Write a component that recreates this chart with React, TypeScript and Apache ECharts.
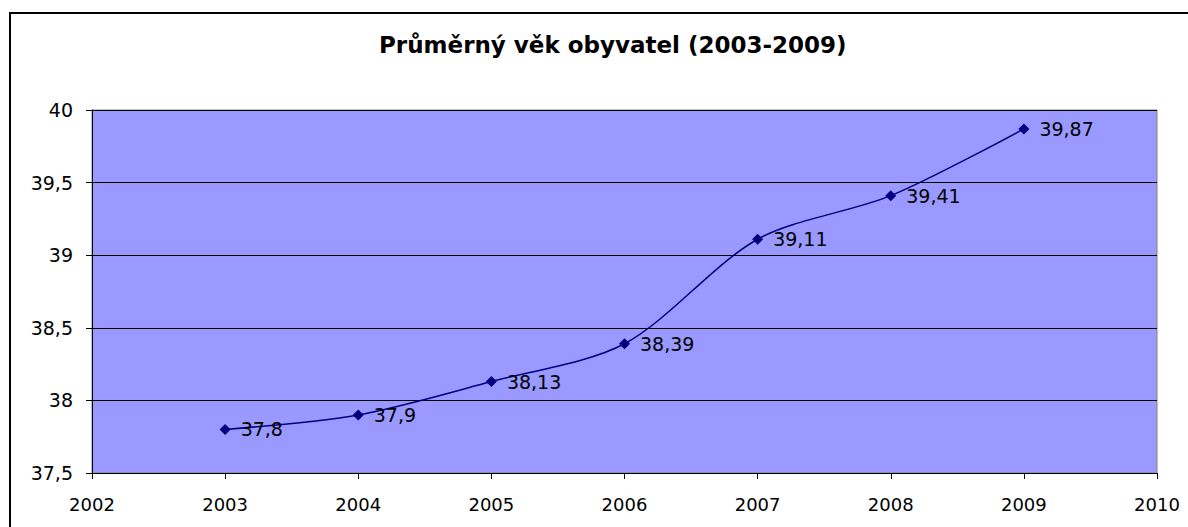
import React, { useEffect, useRef } from "react";
import * as echarts from "echarts";

const years = [2003, 2004, 2005, 2006, 2007, 2008, 2009];
const values = [37.8, 37.9, 38.13, 38.39, 39.11, 39.41, 39.87];
const title = "Průměrný věk obyvatel (2003-2009)";

const comma = (v: number) => String(v).replace(".", ",");

export default function App() {
  const ref = useRef<HTMLDivElement>(null);
  useEffect(() => {
    if (!ref.current) return;
    const chart = echarts.init(ref.current, null, { renderer: "svg" });
    const font = "'DejaVu Sans', sans-serif";
    chart.setOption({
      animation: false,
      backgroundColor: "#ffffff",
      title: {
        text: title,
        left: 374,
        top: 28,
        textStyle: { fontFamily: font, fontSize: 23, fontWeight: "bold", color: "#000" },
      },
      graphic: [
        {
          type: "rect",
          shape: { x: 10, y: 13, width: 1300, height: 700 },
          style: { fill: "none", stroke: "#000", lineWidth: 2 },
          silent: true,
        },
      ],
      grid: {
        left: 92,
        top: 110,
        width: 1065,
        height: 363,
        show: true,
        backgroundColor: "#9999FF",
        borderColor: "#808080",
        borderWidth: 1,
      },
      xAxis: {
        type: "value",
        min: 2002,
        max: 2010,
        interval: 1,
        axisLine: { show: true, lineStyle: { color: "#000", width: 1 } },
        axisTick: { show: true, length: 6, lineStyle: { color: "#000" } },
        splitLine: { show: false },
        axisLabel: {
          fontFamily: font,
          fontSize: 18,
          color: "#000",
          margin: 22,
          formatter: (v: number) => String(v),
        },
      },
      yAxis: {
        type: "value",
        min: 37.5,
        max: 40,
        interval: 0.5,
        axisLine: { show: true, lineStyle: { color: "#000", width: 1 } },
        axisTick: { show: true, length: 6, lineStyle: { color: "#000" } },
        splitLine: { show: true, lineStyle: { color: "#000", width: 1 } },
        axisLabel: {
          fontFamily: font,
          fontSize: 19,
          color: "#000",
          margin: 19,
          formatter: (v: number) => comma(v),
        },
      },
      series: [
        {
          type: "line",
          data: years.map((y, i) => [y, values[i]]),
          smooth: 0.3,
          symbol: "diamond",
          symbolSize: 11,
          lineStyle: { color: "#000080", width: 1.5 },
          itemStyle: { color: "#000080" },
          label: {
            show: true,
            position: "right",
            distance: 10,
            fontFamily: font,
            fontSize: 19,
            color: "#000",
            formatter: (p: any) => comma(p.value[1]),
          },
        },
      ],
    });
    return () => chart.dispose();
  }, []);
  return (
    <div
      ref={ref}
      style={{ position: "absolute", left: 0, top: 0, width: 1188, height: 527 }}
    />
  );
}
